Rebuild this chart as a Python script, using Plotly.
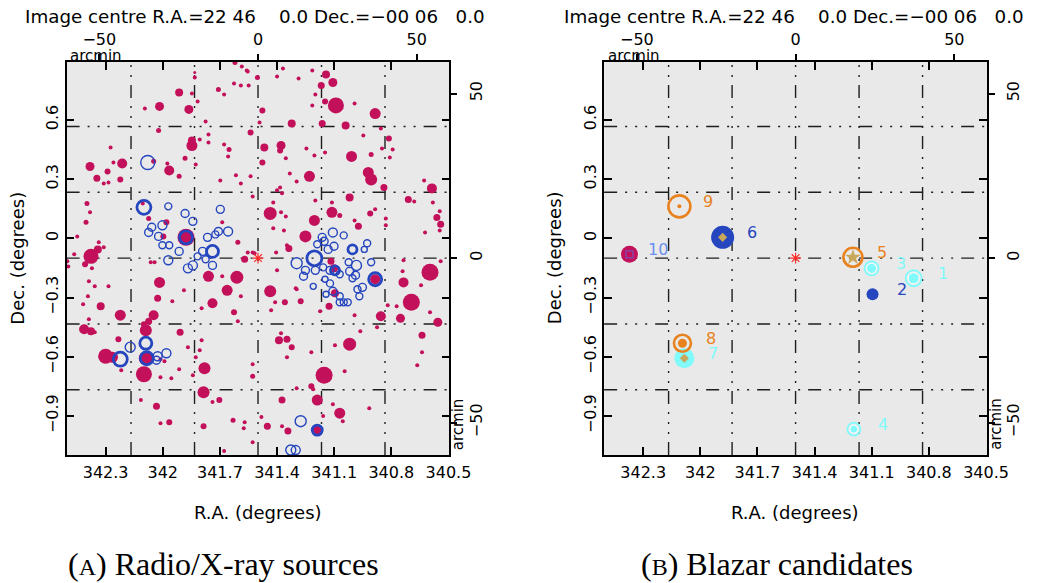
import plotly.graph_objects as go

# ---------------- field / axes ----------------
RA_CENTRE = 341.5
DEC_CENTRE = -0.1
RA_RANGE = [342.505, 340.495]
DEC_RANGE = [-1.097, 0.893]

RA_TICKS = [342.3, 342.0, 341.7, 341.4, 341.1, 340.8, 340.5]
RA_TICKTEXT = ["342.3", "342", "341.7", "341.4", "341.1", "340.8", "340.5"]
DEC_TICKS = [0.6, 0.3, 0.0, -0.3, -0.6, -0.9]
DEC_TICKTEXT = ["0.6", "0.3", "0", "\u22120.3", "\u22120.6", "\u22120.9"]
ARCMIN_TICKS = [-50, 0, 50]
ARCMIN_TICKTEXT = ["\u221250", "0", "50"]
GRID_ARCMIN = [-40, -20, 0, 20, 40]

# ---------------- (A) radio sources ----------------
radio_ra = [
    341.621, 341.585, 341.559, 341.832, 341.832, 341.626, 341.590, 341.549, 341.708, 341.678,
    341.914, 341.847, 342.017, 342.094, 341.863, 341.817, 341.775, 341.539, 342.022, 341.760,
    341.847, 341.847, 341.806, 341.760, 341.678, 341.652, 341.657, 342.274, 342.382, 342.213,
    342.259, 342.290, 342.346, 342.310, 342.285, 342.223, 342.048, 341.966, 341.976, 341.883,
    341.827, 341.914, 341.698, 341.616, 341.590, 341.539, 341.528, 342.398, 342.382, 342.403,
    342.449, 342.105, 342.074, 341.981, 341.997, 341.878, 341.606, 341.688, 341.528, 341.570,
    342.377, 342.341, 342.336, 342.310, 342.465, 342.501, 342.496, 342.372, 342.408, 342.063,
    342.043, 342.017, 341.760, 341.611, 341.662, 341.688, 341.889, 342.388, 342.357, 342.027,
    341.590, 341.554, 341.503, 341.400, 341.369, 341.287, 341.215, 341.143, 341.107, 341.168,
    341.199, 341.215, 341.148, 341.091, 340.993, 340.885, 341.477, 341.492, 341.323, 341.163,
    341.040, 340.855, 340.813, 340.947, 341.467, 341.379, 341.384, 341.246, 341.204, 341.148,
    341.009, 340.906, 340.849, 340.793, 340.808, 341.354, 341.477, 340.921, 340.906, 340.839,
    341.333, 341.230, 341.297, 341.400, 341.384, 341.374, 341.019, 341.199, 341.112, 340.711,
    340.680, 340.587, 340.628, 340.582, 341.436, 341.420, 341.379, 341.354, 341.112, 341.071,
    341.204, 340.911, 340.885, 340.829, 340.993, 340.973, 340.829, 340.561, 340.546, 340.541,
    340.546, 340.623, 341.251, 341.364, 341.420, 341.338, 341.348, 341.405, 341.554, 341.518,
    340.736, 340.541, 340.597, 340.736, 340.741, 340.644, 341.436, 341.297, 341.400, 341.101,
    340.885, 341.117, 340.695, 341.410, 341.359, 341.302, 341.276, 341.431, 341.174, 341.127,
    341.096, 340.993, 340.855, 340.819, 340.772, 340.752, 340.597, 340.556, 340.639, 340.639,
    340.664, 340.875, 340.963, 341.096, 341.019, 341.045, 341.153, 341.220, 341.390, 341.348,
    341.323, 341.379, 341.348, 341.528, 341.528, 341.220, 341.210, 341.297, 341.189, 341.374,
    341.107, 341.071, 341.055, 340.916, 341.158, 341.482, 341.451, 341.374, 341.343, 341.189,
    341.570, 341.528, 342.285, 341.950, 342.393, 342.418, 342.326, 342.223, 342.048, 342.074,
    342.388, 342.413, 342.377, 342.357, 342.089, 342.099, 341.909, 341.739, 341.796, 341.626,
    341.606, 342.233, 342.300, 342.264, 342.218, 342.089, 342.099, 342.012, 341.991, 342.012,
    341.955, 341.914, 341.868, 341.806, 341.827, 341.842, 341.796, 341.781, 341.786, 341.739,
    341.703, 342.115, 342.033, 342.012, 341.966, 341.786, 341.678, 341.631, 341.575,
]
radio_dec = [
    0.890, 0.870, 0.850, 0.840, 0.814, 0.784, 0.774, 0.774, 0.754, 0.728,
    0.739, 0.733, 0.668, 0.658, 0.653, 0.693, 0.592, 0.536, 0.546, 0.526,
    0.470, 0.496, 0.501, 0.486, 0.475, 0.450, 0.415, 0.460, 0.364, 0.379,
    0.384, 0.339, 0.304, 0.278, 0.283, 0.298, 0.390, 0.344, 0.379, 0.405,
    0.374, 0.314, 0.293, 0.319, 0.278, 0.314, 0.212, 0.177, 0.132, 0.081,
    0.010, 0.177, 0.101, 0.081, 0.010, 0.005, -0.020, 0.081, -0.071, -0.106,
    -0.091, -0.056, -0.020, -0.045, -0.081, -0.116, -0.142, -0.152, -0.131, -0.121,
    -0.121, -0.223, -0.192, -0.197, -0.263, -0.192, -0.263, -0.217, -0.243, -0.303,
    -0.293, 0.845, 0.814, 0.819, 0.860, 0.809, 0.850, 0.830, 0.789, 0.774,
    0.728, 0.673, 0.693, 0.673, 0.683, 0.632, 0.647, 0.587, 0.582, 0.582,
    0.572, 0.556, 0.506, 0.521, 0.460, 0.470, 0.445, 0.455, 0.420, 0.435,
    0.415, 0.425, 0.455, 0.450, 0.410, 0.405, 0.384, 0.334, 0.298, 0.258,
    0.329, 0.314, 0.288, 0.243, 0.258, 0.228, 0.207, 0.192, 0.182, 0.197,
    0.187, 0.253, 0.293, 0.182, 0.126, 0.182, 0.132, 0.111, 0.132, 0.116,
    0.091, 0.126, 0.147, 0.101, 0.091, 0.061, 0.066, 0.106, 0.137, 0.071,
    0.040, 0.030, 0.010, 0.040, 0.051, -0.051, -0.035, -0.071, -0.071, -0.076,
    -0.111, -0.116, -0.172, -0.223, -0.167, -0.238, -0.268, -0.258, -0.162, -0.152,
    -0.207, -0.116, -0.324, -0.324, -0.324, -0.253, -0.319, -0.364, -0.369, -0.344,
    -0.278, -0.389, -0.394, -0.339, -0.344, -0.405, -0.374, -0.425, -0.491, -0.577,
    -0.642, -0.450, -0.470, -0.541, -0.536, -0.673, -0.693, -0.577, -0.516, -0.511,
    -0.551, -0.480, -0.602, -0.637, -0.698, -0.749, -0.764, -0.759, -0.819, -0.819,
    -0.840, -0.885, -0.926, -0.860, -0.900, -0.905, -0.951, -0.951, -0.976, -0.971,
    -0.931, -1.032, -0.243, -0.319, -0.293, -0.334, -0.344, -0.389, -0.389, -0.420,
    -0.410, -0.460, -0.470, -0.475, -0.465, -0.435, -0.475, -0.329, -0.354, -0.374,
    -0.420, -0.511, -0.597, -0.602, -0.668, -0.607, -0.688, -0.612, -0.622, -0.703,
    -0.708, -0.663, -0.551, -0.566, -0.602, -0.693, -0.516, -0.658, -0.779, -0.829,
    -0.819, -0.819, -0.850, -0.936, -0.931, -0.951, -1.077, -0.921, -0.961,
]
radio_size = [
    5, 4, 4, 3, 4, 4, 4, 4, 5, 4,
    8, 4, 9, 4, 9, 4, 4, 6, 5, 4,
    11, 8, 4, 4, 4, 5, 4, 4, 9, 10,
    4, 6, 7, 4, 4, 6, 5, 10, 4, 5,
    4, 5, 4, 4, 4, 4, 4, 5, 4, 5,
    4, 4, 5, 6, 6, 17, 5, 4, 4, 7,
    15, 8, 4, 4, 4, 4, 4, 4, 6, 4,
    4, 11, 11, 13, 11, 4, 4, 4, 4, 7,
    4, 4, 5, 4, 4, 4, 4, 8, 9, 7,
    4, 4, 6, 16, 4, 11, 6, 4, 8, 7,
    8, 4, 6, 4, 8, 9, 6, 4, 4, 4,
    11, 5, 4, 4, 4, 4, 6, 11, 12, 7,
    4, 11, 4, 4, 4, 4, 8, 4, 4, 7,
    4, 10, 4, 4, 13, 4, 4, 4, 11, 5,
    11, 6, 4, 4, 4, 7, 4, 7, 4, 7,
    4, 4, 12, 4, 4, 7, 4, 4, 4, 4,
    4, 4, 17, 10, 4, 4, 12, 4, 4, 8,
    10, 7, 17, 4, 6, 4, 6, 4, 4, 7,
    8, 4, 10, 4, 4, 9, 4, 9, 7, 4,
    4, 4, 4, 4, 13, 4, 17, 4, 8, 7,
    6, 4, 4, 4, 5, 6, 4, 4, 11, 7,
    4, 11, 4, 4, 4, 4, 7, 4, 7, 9,
    4, 4, 4, 4, 4, 4, 8, 11, 10, 7,
    4, 10, 8, 4, 12, 6, 7, 10, 4, 6,
    4, 6, 15, 11, 4, 14, 16, 4, 4, 4,
    4, 4, 4, 4, 4, 4, 4, 12, 12, 4,
    6, 4, 7, 4, 6, 6, 4, 5, 4,
]

# ---------------- (A) X-ray sources ----------------
xray_ra = [
    342.079, 342.099, 341.971, 341.883, 341.842, 341.698, 341.657, 341.708, 342.002, 342.058,
    342.074, 342.022, 342.002, 341.966, 341.914, 341.971, 341.878, 341.765, 341.739, 341.791,
    341.817, 341.842, 341.868, 341.775, 341.739, 341.724, 341.204, 341.163, 341.107, 341.153,
    341.189, 341.132, 341.101, 341.050, 341.004, 340.927, 340.942, 341.297, 341.251, 341.261,
    341.199, 341.158, 341.122, 341.096, 341.071, 341.024, 340.983, 341.019, 340.988, 341.004,
    340.906, 340.885, 341.122, 341.210, 341.148, 341.107, 340.952, 341.071, 340.968, 341.143,
    341.071, 341.050, 341.029, 340.978, 341.276, 341.189, 341.328, 341.302, 342.171, 342.089,
    342.223, 342.084, 342.027, 341.981, 342.033,
]
xray_dec = [
    0.384, 0.157, 0.162, 0.126, 0.086, 0.147, 0.035, 0.035, 0.066, 0.056,
    0.030, 0.010, -0.035, -0.035, -0.066, -0.111, 0.005, 0.005, -0.066, -0.066,
    -0.091, -0.137, -0.152, -0.106, -0.137, 0.020, -0.101, 0.005, 0.030, -0.015,
    -0.030, -0.056, -0.040, 0.015, -0.056, -0.025, -0.056, -0.126, -0.162, -0.192,
    -0.162, -0.147, -0.162, -0.162, -0.182, -0.121, -0.137, -0.167, -0.187, -0.202,
    -0.121, -0.207, -0.228, -0.243, -0.207, -0.268, -0.248, -0.293, -0.293, -0.283,
    -0.324, -0.324, -0.324, -0.258, -0.926, -0.971, -1.072, -1.072, -0.551, -0.531,
    -0.612, -0.607, -0.597, -0.582, -0.617,
]
xray_size = [
    14, 14, 7, 8, 8, 8, 9, 8, 9, 8,
    8, 8, 7, 7, 8, 9, 13, 8, 12, 8,
    7, 9, 9, 7, 8, 7, 15, 8, 9, 8,
    7, 8, 8, 7, 9, 7, 6, 11, 8, 8,
    8, 7, 8, 9, 7, 7, 10, 8, 8, 7,
    7, 13, 7, 6, 6, 8, 8, 7, 7, 6,
    7, 7, 7, 7, 11, 10, 10, 9, 10, 12,
    14, 13, 9, 9, 8,
]
# 1 = X-ray source with radio counterpart (drawn bold)
xray_matched = [
    0, 1, 0, 0, 0, 0, 0, 0, 0, 0,
    0, 0, 0, 0, 0, 0, 1, 0, 1, 0,
    0, 0, 0, 0, 0, 0, 1, 0, 0, 0,
    0, 0, 0, 0, 1, 0, 0, 0, 0, 0,
    0, 0, 0, 1, 0, 0, 0, 0, 0, 0,
    0, 1, 0, 0, 0, 0, 0, 0, 0, 0,
    0, 0, 0, 0, 0, 1, 0, 0, 0, 1,
    1, 1, 0, 0, 0,
]

# ---------------- (B) blazar candidates ----------------
blazar_id = [1, 2, 3, 4, 5, 6, 7, 8, 9, 10]
blazar_ra = [340.880, 341.096, 341.101, 341.194, 341.199, 341.883, 342.084, 342.094, 342.110, 342.372]
blazar_dec = [-0.202, -0.283, -0.152, -0.966, -0.096, 0.005, -0.607, -0.531, 0.162, -0.081]
blazar_kind = ["cyan", "blue", "cyan", "cyan", "orange", "blue", "cyanbig", "orange", "orange", "magenta"]

# ---------------- styling ----------------
MAGENTA = "#C3105A"
BLUE = "#2546BE"
ORANGE = "#E8821E"
CYAN = "#80FAFA"
TAN = "#C9A85C"
RED = "#FF2A2A"
BG = "#E9E9E9"
FONT = "DejaVu Sans"
TF = dict(family=FONT, size=16, color="black")

XDOM_A = [68 / 1056, 459 / 1056]
XDOM_B = [617 / 1056, 1008 / 1056]
YDOM = [1 - 455 / 583, 1 - 62 / 583]
ARC_X = [(RA_CENTRE - r) * 60 for r in RA_RANGE]
ARC_Y = [(d - DEC_CENTRE) * 60 for d in DEC_RANGE]

fig = go.Figure()


def add(trace_kwargs, panel):
    xa, ya = ("x", "y") if panel == 0 else ("x3", "y3")
    fig.add_trace(go.Scatter(xaxis=xa, yaxis=ya, hoverinfo="skip", showlegend=False, **trace_kwargs))


def mk(**kw):
    kw.setdefault("opacity", 1)
    return kw


# panel A
add(dict(x=radio_ra, y=radio_dec, mode="markers",
         marker=mk(size=radio_size, color=MAGENTA, line=dict(width=0))), 0)
add(dict(x=xray_ra, y=xray_dec, mode="markers",
         marker=mk(symbol="circle-open", size=xray_size, color=BLUE,
                   line=dict(width=[2.8 if m else 1.4 for m in xray_matched]))), 0)
for p in (0, 1):
    add(dict(x=[RA_CENTRE], y=[DEC_CENTRE], mode="markers",
             marker=mk(symbol="asterisk-open", size=9, color=RED, line=dict(width=1.2))), p)


# panel B
def sel(kinds):
    idx = [i for i, k in enumerate(blazar_kind) if k in kinds]
    return [blazar_ra[i] for i in idx], [blazar_dec[i] for i in idx], idx


ring_size = {1: 16, 3: 14, 4: 13}
fill_size = {1: 11, 3: 10, 4: 8}
rx, ry, idx = sel(["cyan"])
add(dict(x=rx, y=ry, mode="markers",
         marker=mk(symbol="circle-open", size=[ring_size[blazar_id[i]] for i in idx],
                   color=CYAN, line=dict(width=1.8))), 1)
add(dict(x=rx, y=ry, mode="markers",
         marker=mk(size=[fill_size[blazar_id[i]] for i in idx], color=CYAN,
                   line=dict(width=1, color="white"))), 1)

bx, by, idx = sel(["blue"])
add(dict(x=bx, y=by, mode="markers",
         marker=mk(size=[12 if blazar_id[i] == 2 else 23 for i in idx], color=BLUE, line=dict(width=0))), 1)

cx, cy, idx = sel(["cyanbig"])
add(dict(x=cx, y=cy, mode="markers", marker=mk(size=20, color=CYAN, line=dict(width=0))), 1)

mx, my, idx = sel(["magenta"])
add(dict(x=mx, y=my, mode="markers", marker=mk(size=17, color=MAGENTA, line=dict(width=0))), 1)
add(dict(x=mx, y=my, mode="markers",
         marker=mk(symbol="square-open", size=7, color="#7E4DB8", line=dict(width=1.2))), 1)

ox, oy, idx = sel(["orange"])
osz = {5: 19, 8: 17, 9: 22}
add(dict(x=ox, y=oy, mode="markers",
         marker=mk(symbol="circle-open", size=[osz[blazar_id[i]] for i in idx],
                   color=ORANGE, line=dict(width=2.6))), 1)
inner = [i for i in idx if blazar_id[i] in (8, 9)]
add(dict(x=[blazar_ra[i] for i in inner], y=[blazar_dec[i] for i in inner], mode="markers",
         marker=mk(size=[9 if blazar_id[i] == 8 else 4 for i in inner], color=ORANGE, line=dict(width=0))), 1)

dia = [i for i, b in enumerate(blazar_id) if b in (6, 7)]
add(dict(x=[blazar_ra[i] for i in dia], y=[blazar_dec[i] for i in dia], mode="markers",
         marker=mk(symbol="diamond", size=7, color=TAN, line=dict(width=0))), 1)
star = [i for i, b in enumerate(blazar_id) if b == 5]
add(dict(x=[blazar_ra[i] for i in star], y=[blazar_dec[i] for i in star], mode="markers",
         marker=mk(symbol="star", size=12, color=TAN, line=dict(width=0))), 1)

label_colour = {"cyan": CYAN, "cyanbig": CYAN, "blue": BLUE, "orange": ORANGE, "magenta": "#6A90F0"}
annotations = []
for i, b in enumerate(blazar_id):
    annotations.append(dict(x=blazar_ra[i], y=blazar_dec[i], xref="x3", yref="y3", text=str(b),
                            showarrow=False, xshift=29, yshift=5, xanchor="center", yanchor="middle",
                            font=dict(family=FONT, size=16, color=label_colour[blazar_kind[i]])))

# ---------------- axes ----------------
layout_axes = {}
for p, xdom in enumerate([XDOM_A, XDOM_B]):
    xb, xt, yl, yr = (("x", "x2", "y", "y2") if p == 0 else ("x3", "x4", "y3", "y4"))
    kx = lambda n: "xaxis" if n == "x" else "xaxis" + n[1:]
    ky = lambda n: "yaxis" if n == "y" else "yaxis" + n[1:]
    layout_axes[kx(xb)] = dict(domain=xdom, range=RA_RANGE, tickmode="array", tickvals=RA_TICKS,
                               ticktext=RA_TICKTEXT, ticks="inside", ticklen=8, tickwidth=1.5,
                               tickcolor="black", showline=True, linecolor="black", linewidth=1.6,
                               mirror="ticks", showgrid=False, zeroline=False, anchor=yl,
                               tickfont=TF, ticklabelstandoff=2)
    layout_axes[kx(xt)] = dict(overlaying=xb, side="top", range=ARC_X, tickmode="array",
                               tickvals=ARCMIN_TICKS, ticktext=ARCMIN_TICKTEXT, ticks="outside",
                               ticklen=7, tickwidth=1.5, tickcolor="black", showline=False,
                               showgrid=False, zeroline=False, anchor=yl, tickfont=TF,
                               ticklabelstandoff=3)
    layout_axes[ky(yl)] = dict(domain=YDOM, range=DEC_RANGE, tickmode="array", tickvals=DEC_TICKS,
                               ticktext=DEC_TICKTEXT, tickangle=-90, ticks="inside", ticklen=8,
                               tickwidth=1.5, tickcolor="black", showline=True, linecolor="black",
                               linewidth=1.6, mirror="ticks", showgrid=False, zeroline=False,
                               anchor=xb, tickfont=TF, ticklabelstandoff=0)
    layout_axes[ky(yr)] = dict(overlaying=yl, side="right", range=ARC_Y, tickmode="array",
                               tickvals=ARCMIN_TICKS, ticktext=ARCMIN_TICKTEXT, tickangle=-90,
                               ticks="outside", ticklen=7, tickwidth=1.5, tickcolor="black",
                               showline=False, showgrid=False, zeroline=False, anchor=xb,
                               tickfont=TF, ticklabelstandoff=5)

# dash-dot-dot-dot grid at 20 arcmin steps
GRID_DASH = "13px,8px,2px,8px,2px,8px,2px,8px"
shapes = []
for xt, yr, yl, xb in (("x2", "y2", "y", "x"), ("x4", "y4", "y3", "x3")):
    for g in GRID_ARCMIN:
        shapes.append(dict(type="line", xref=xt, yref=yl + " domain", x0=g, x1=g, y0=0, y1=1,
                           line=dict(color="#1e1e1e", width=1.4, dash=GRID_DASH), layer="below"))
        shapes.append(dict(type="line", xref=xb + " domain", yref=yr, x0=0, x1=1, y0=g, y1=g,
                           line=dict(color="#1e1e1e", width=1.4, dash=GRID_DASH), layer="below"))

# ---------------- texts ----------------
NB = "\u00a0"
header = ("Image centre R.A.=22 46" + NB * 4 + "0.0 Dec.=\u221200 06" + NB * 3 + "0.0")


def txt(x, y, text, size, family=FONT, angle=0):
    return dict(x=x / 1056, y=1 - y / 583, xref="paper", yref="paper", text=text,
                showarrow=False, xanchor="center", yanchor="middle", textangle=angle,
                font=dict(family=family, size=size, color="black"))


for cx in (260.5, 811):
    annotations.append(txt(cx, 17, header, 18.3))
for off in (0, 549):
    annotations.append(txt(98 + off, 56, "arcmin", 15))
    annotations.append(txt(468 + off, 424, "arcmin", 15, angle=-90))
    annotations.append(txt(263 + off, 512, "R.A. (degrees)", 18))
    annotations.append(txt(18 + off, 258, "Dec. (degrees)", 18, angle=-90))

annotations.append(txt(228, 564, "(<span style='font-size:24px'>A</span>) Radio/X-ray sources",
                       32, family="Liberation Serif"))
annotations.append(txt(794, 564, "(<span style='font-size:24px'>B</span>) Blazar candidates",
                       32, family="Liberation Serif"))

fig.update_layout(
    width=1056, height=583, margin=dict(l=0, r=0, t=0, b=0),
    paper_bgcolor="white", plot_bgcolor=BG,
    shapes=shapes, annotations=annotations, showlegend=False,
    **layout_axes,
)

fig.write_html("out.html")
